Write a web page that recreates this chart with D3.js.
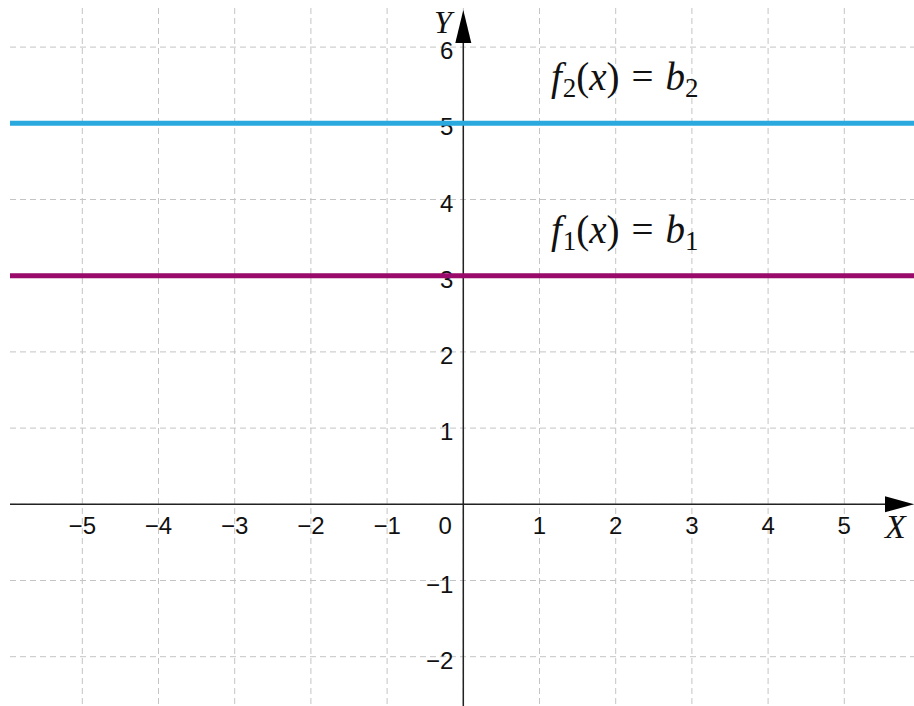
<!DOCTYPE html>
<html>
<head>
<meta charset="utf-8">
<script src="https://cdn.jsdelivr.net/npm/d3@7"></script>
<style>
  html, body { margin: 0; padding: 0; background: #fff; }
  .tick-label { font-family: "Liberation Sans", Arial, sans-serif; font-size: 24px; fill: #111; }
  .math { font-family: "Liberation Serif", "Times New Roman", serif; font-size: 39px; fill: #111; }
</style>
</head>
<body>
<div id="chart"></div>
<script>
// values
const xTicks = [-5, -4, -3, -2, -1, 1, 2, 3, 4, 5];
const yTicks = [-2, -1, 1, 2, 3, 4, 5, 6];
const gridX = [-5, -4, -3, -2, -1, 0, 1, 2, 3, 4, 5];
const gridY = [-2, -1, 0, 1, 2, 3, 4, 5, 6];
const lineIndex = ["1", "2"];      // f1, f2
const lineB = [3, 5];              // constant values b1, b2
const labelX = [1.15, 1.15];       // where the formula starts (in x units)

const w = 914;
const h = 706;
// origin sits at (463.3, 504.3), one unit is about 76.2 px
const unit = 76.2;
const ox = 463.3, oy = 504.3;

const x = d3.scaleLinear()
  .domain([-ox / unit, (w - ox) / unit])
  .range([0, w]);
const y = d3.scaleLinear()
  .domain([-(h - oy) / unit, oy / unit])
  .range([h, 0]);

const gridLeft = 10, gridTop = 8;

const svg = d3.select("#chart").append("svg")
  .attr("width", w)
  .attr("height", h)
  .style("display", "block");

svg.append("rect").attr("width", w).attr("height", h).attr("fill", "#fff");

// dashed grid
const grid = svg.append("g").attr("stroke", "#c4c4c4").attr("stroke-width", 1).attr("stroke-dasharray", "6,4");
grid.selectAll(".gx").data(gridX).enter().append("line")
  .attr("x1", d => x(d)).attr("x2", d => x(d))
  .attr("y1", gridTop).attr("y2", h);
grid.selectAll(".gy").data(gridY).enter().append("line")
  .attr("x1", gridLeft).attr("x2", w)
  .attr("y1", d => y(d)).attr("y2", d => y(d));

// axes
const axisColor = "#222";
svg.append("line")
  .attr("x1", gridLeft).attr("x2", w - 26)
  .attr("y1", y(0)).attr("y2", y(0))
  .attr("stroke", axisColor).attr("stroke-width", 1.5);
svg.append("line")
  .attr("x1", x(0)).attr("x2", x(0))
  .attr("y1", 40).attr("y2", h)
  .attr("stroke", axisColor).attr("stroke-width", 1.5);

// arrow heads
svg.append("path")
  .attr("d", `M${w},${y(0)} L${w - 29},${y(0) - 8} L${w - 29},${y(0) + 8} Z`)
  .attr("fill", "#000");
svg.append("path")
  .attr("d", `M${x(0)},${10} L${x(0) - 8},${43} L${x(0) + 8},${43} Z`)
  .attr("fill", "#000");

// tick labels
svg.selectAll(".xl").data(xTicks).enter().append("text")
  .classed("tick-label", true)
  .attr("x", d => x(d))
  .attr("y", y(0) + 30)
  .attr("text-anchor", "middle")
  .text(d => d3.format("d")(d));

svg.append("text")
  .classed("tick-label", true)
  .attr("x", x(0) - 18)
  .attr("y", y(0) + 30)
  .attr("text-anchor", "middle")
  .text("0");

svg.selectAll(".yl").data(yTicks).enter().append("text")
  .classed("tick-label", true)
  .attr("x", x(0) - 10)
  .attr("y", d => y(d) + 12)
  .attr("text-anchor", "end")
  .text(d => d3.format("d")(d));

// axis names
svg.append("text").classed("math", true)
  .attr("x", 434).attr("y", 33)
  .style("font-style", "italic").style("font-size", "32px")
  .text("Y");
svg.append("text").classed("math", true)
  .attr("x", 885).attr("y", 538)
  .style("font-style", "italic").style("font-size", "34px")
  .text("X");

// constant functions
const colors = ["#990a6b", "#2aa9df"];
svg.selectAll(".fline").data(lineB).enter().append("line")
  .attr("x1", gridLeft).attr("x2", w)
  .attr("y1", d => y(d)).attr("y2", d => y(d))
  .attr("stroke", (d, i) => colors[i])
  .attr("stroke-width", 5);

// formula labels  f_i(x) = b_i
lineB.forEach((b, i) => {
  const t = svg.append("text").classed("math", true)
    .attr("x", x(labelX[i]))
    .attr("y", y(b) - 33);
  t.append("tspan").style("font-style", "italic").text("f");
  t.append("tspan").attr("dx", 1).attr("dy", 7).style("font-size", "27px").text(lineIndex[i]);
  t.append("tspan").attr("dy", -7).text("(");
  t.append("tspan").style("font-style", "italic").text("x");
  t.append("tspan").text(")");
  t.append("tspan").attr("dx", 12).text("=");
  t.append("tspan").attr("dx", 12).style("font-style", "italic").text("b");
  t.append("tspan").attr("dy", 7).style("font-size", "27px").text(lineIndex[i]);
});
</script>
</body>
</html>
